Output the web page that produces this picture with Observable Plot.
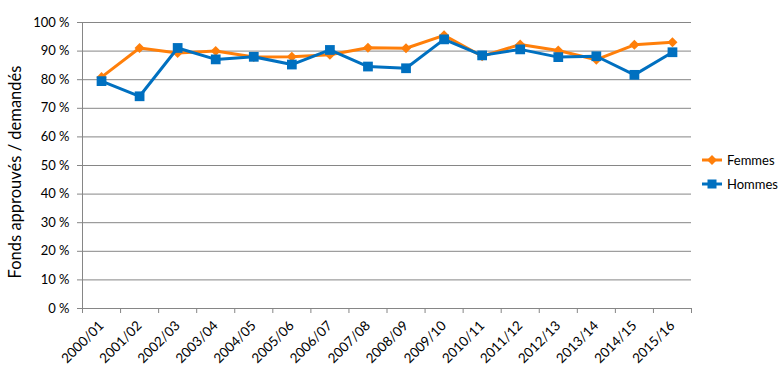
<!DOCTYPE html>
<html>
<head>
<meta charset="utf-8">
<script src="https://cdn.jsdelivr.net/npm/d3@7"></script>
<script src="https://cdn.jsdelivr.net/npm/@observablehq/plot@0.6"></script>
<style>
  html, body { margin: 0; padding: 0; background: #fff; }
  #wrap { position: relative; width: 783px; height: 384px; font-family: Lato, "Open Sans", sans-serif; }
  #legend { position: absolute; left: 702px; top: 148px; font-size: 13px; color: #000; }
  .item { display: flex; align-items: center; height: 24px; }
  .item svg { margin-right: 5px; }
  #ylabel { position: absolute; left: 15px; top: 172px; font-size: 16.5px; color: #000;
    white-space: nowrap; transform: translate(-50%, -50%) rotate(-90deg); }
</style>
</head>
<body>
<div id="wrap"></div>
<script>
const categories = ["2000/01","2001/02","2002/03","2003/04","2004/05","2005/06","2006/07","2007/08",
  "2008/09","2009/10","2010/11","2011/12","2012/13","2013/14","2014/15","2015/16"];
const femmes = [80.9, 91.1, 89.3, 90.0, 87.9, 88.0, 88.7, 91.2, 91.0, 95.5, 88.2, 92.3, 90.2, 87.0, 92.2, 93.1];
const hommes = [79.5, 74.2, 91.1, 87.1, 88.0, 85.3, 90.4, 84.6, 84.0, 94.1, 88.5, 90.6, 87.9, 88.2, 81.7, 89.6];
const yTicks = [0, 10, 20, 30, 40, 50, 60, 70, 80, 90, 100];
const seriesNames = ["Femmes", "Hommes"];
const yTitle = "Fonds approuvés / demandés";
const colors = ["#FF7F0A", "#0070C0"];

const xDomain = [-0.5, categories.length - 0.5];
const boundaries = d3.range(categories.length + 1).map(i => i - 0.5);
const fData = femmes.map((v, i) => ({i, v}));
const hData = hommes.map((v, i) => ({i, v}));
const grid = "#868686";

const chart = Plot.plot({
  width: 783, height: 384,
  marginLeft: 82, marginRight: 92, marginTop: 22, marginBottom: 76,
  style: {fontFamily: "Lato, 'Open Sans', sans-serif", color: "#000", background: "#fff"},
  x: {type: "linear", domain: xDomain},
  y: {domain: [0, 100]},
  marks: [
    Plot.gridY(yTicks, {stroke: grid, strokeOpacity: 1, strokeWidth: 1}),
    Plot.axisY({ticks: yTicks, tickSize: 5, tickPadding: 8, tickFormat: d => d + " %",
      stroke: grid, fill: "#000", fontSize: 13, label: null}),
    Plot.ruleX([xDomain[0]], {stroke: grid}),
    Plot.axisX({ticks: boundaries, tickSize: 5, tickFormat: () => "", stroke: grid, label: null}),
    Plot.axisX({ticks: d3.range(categories.length), tickSize: 0, tickPadding: 15, tickRotate: -45,
      tickFormat: i => categories[i], fontSize: 13.5, fill: "#000", label: null}),
    Plot.line(fData, {x: "i", y: "v", stroke: colors[0], strokeWidth: 3}),
    Plot.dot(fData, {x: "i", y: "v", symbol: "square", rotate: 45, r: 4, fill: colors[0]}),
    Plot.line(hData, {x: "i", y: "v", stroke: colors[1], strokeWidth: 3}),
    Plot.dot(hData, {x: "i", y: "v", symbol: "square", r: 5.5, fill: colors[1]})
  ]
});

const wrap = document.getElementById("wrap");
wrap.appendChild(chart);

const yl = document.createElement("div");
yl.id = "ylabel";
yl.textContent = yTitle;
wrap.appendChild(yl);

const legend = document.createElement("div");
legend.id = "legend";
seriesNames.forEach((name, k) => {
  const item = document.createElement("div");
  item.className = "item";
  const marker = k === 0
    ? `<rect x="6.5" y="3.5" width="7" height="7" fill="${colors[k]}" transform="rotate(45 10 7)"/>`
    : `<rect x="5.5" y="2.5" width="9" height="9" fill="${colors[k]}"/>`;
  item.innerHTML = `<svg width="20" height="14"><line x1="0" x2="20" y1="7" y2="7" stroke="${colors[k]}" stroke-width="3"/>${marker}</svg><span>${name}</span>`;
  legend.appendChild(item);
});
wrap.appendChild(legend);
</script>
</body>
</html>
